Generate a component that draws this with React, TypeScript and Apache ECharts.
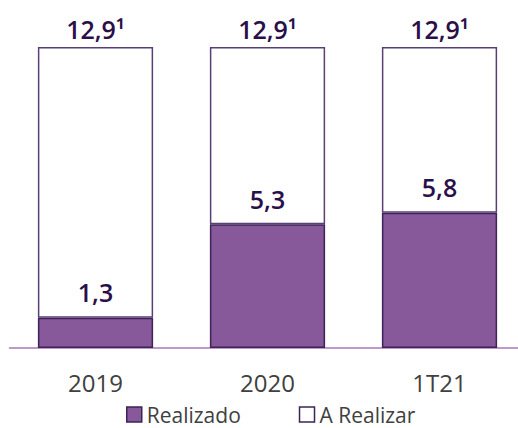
import React, { useEffect, useRef } from "react";
import * as echarts from "echarts";

const categories = ["2019", "2020", "1T21"];
const realizado = [1.3, 5.3, 5.8];
const totals = [12.9, 12.9, 12.9];
const totalLabels = ["12,9¹", "12,9¹", "12,9¹"];
const aRealizar = totals.map((t, i) => +(t - realizado[i]).toFixed(1));

const fmt = (v: number) => v.toFixed(1).replace(".", ",");

export default function App() {
  const ref = useRef<HTMLDivElement>(null);
  useEffect(() => {
    const chart = echarts.init(ref.current!, null, { renderer: "svg" });
    chart.setOption({
      animation: false,
      textStyle: { fontFamily: "Open Sans" },
      grid: { left: 9.5, top: 47, width: 516, height: 301, outerBoundsMode: "none", containLabel: false },
      legend: {
        left: 126,
        top: 404,
        padding: 0,
        icon: "rect",
        itemWidth: 15,
        itemHeight: 15,
        itemGap: 58,
        textStyle: { fontSize: 21, color: "#404040", fontFamily: "Open Sans" },
        data: [
          { name: "Realizado", itemStyle: { color: "#87589a", borderColor: "#3d2357", borderWidth: 1.5 } },
          { name: "A Realizar", itemStyle: { color: "#ffffff", borderColor: "#3d2357", borderWidth: 1.5 } },
        ],
      },
      xAxis: {
        type: "category",
        data: categories,
        axisTick: { show: false },
        axisLine: { lineStyle: { color: "#a779b8", width: 1.5 } },
        axisLabel: { fontSize: 24, color: "#404040", margin: 22, fontFamily: "Open Sans" },
      },
      yAxis: { type: "value", min: 0, max: 12.9, show: false, splitLine: { show: false } },
      series: [
        {
          name: "Realizado",
          type: "bar",
          stack: "a",
          barWidth: "67%",
          data: realizado,
          itemStyle: { color: "#87589a", borderColor: "#3d2357", borderWidth: 1.5 },
          label: {
            show: true,
            position: "top",
            distance: 13,
            formatter: (p: any) => fmt(p.value),
            fontSize: 25,
            fontWeight: 600,
            color: "#2a0f4a",
            fontFamily: "Open Sans",
          },
        },
        {
          name: "A Realizar",
          type: "bar",
          stack: "a",
          barWidth: "67%",
          data: aRealizar,
          itemStyle: { color: "#ffffff", borderColor: "#5a3f73", borderWidth: 1.5 },
          label: {
            show: true,
            position: "top",
            distance: 6,
            formatter: (p: any) => totalLabels[p.dataIndex],
            fontSize: 25,
            fontWeight: 600,
            color: "#2a0f4a",
            fontFamily: "Open Sans",
          },
        },
      ],
    });
    return () => chart.dispose();
  }, []);
  return (
    <div
      ref={ref}
      style={{ position: "fixed", left: 0, top: 0, width: 518, height: 428, background: "#fff" }}
    />
  );
}
